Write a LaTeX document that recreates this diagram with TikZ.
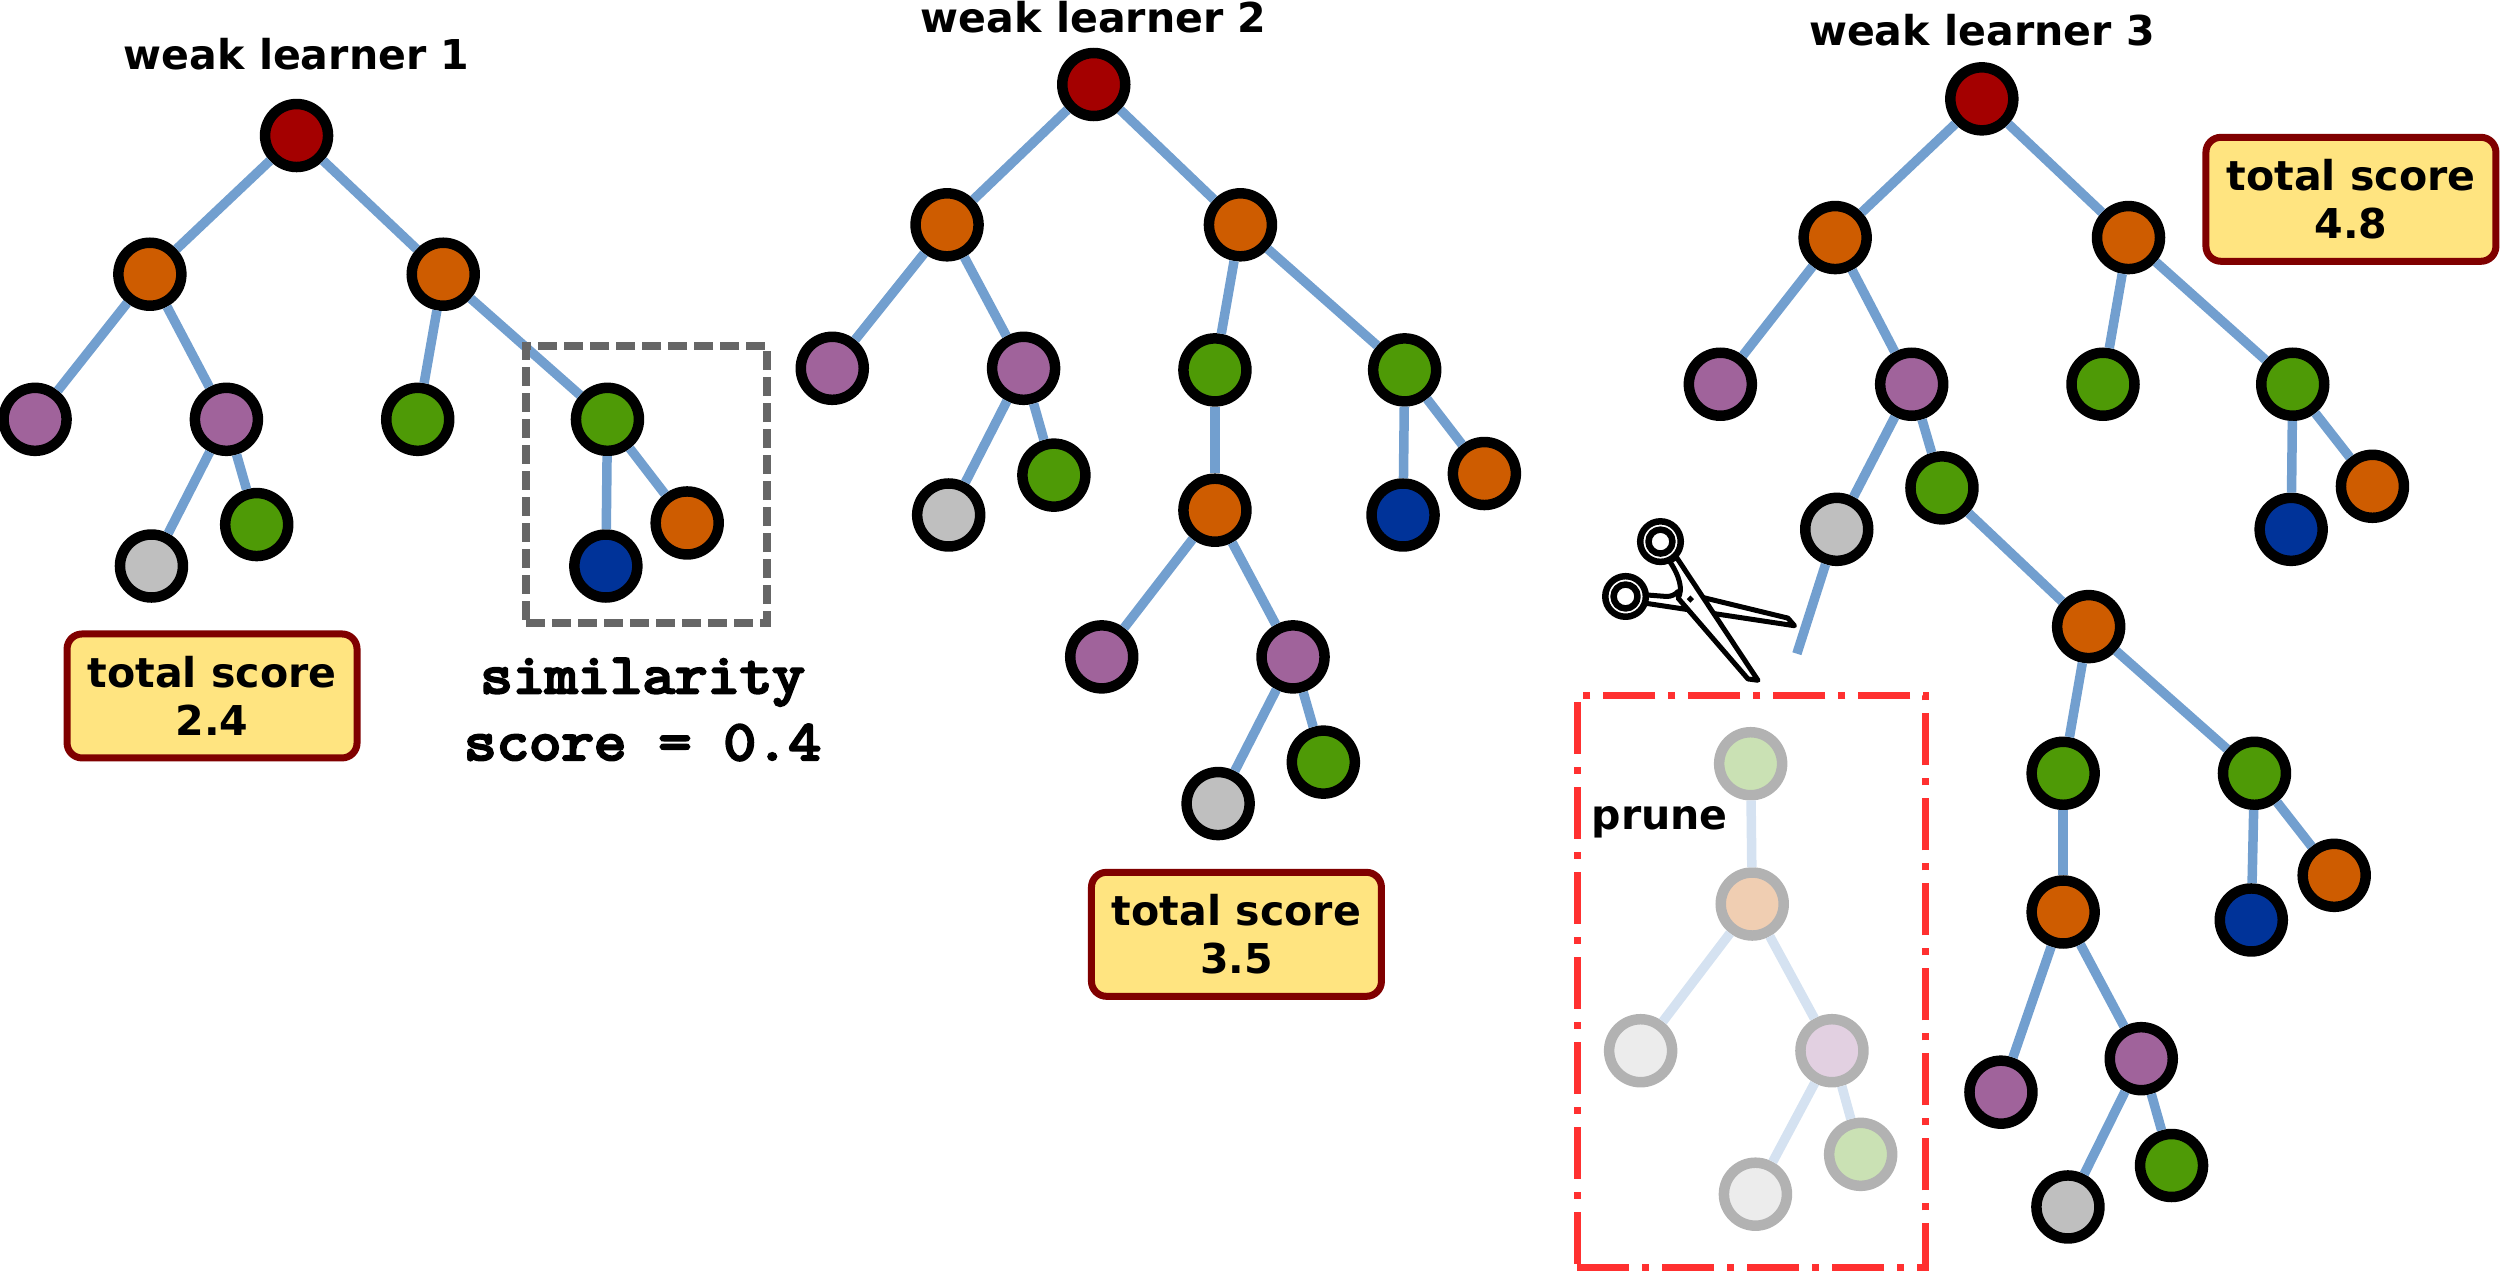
\documentclass[tikz,border=0pt]{standalone}
\usepackage{fontspec}
\setmainfont{DejaVu Sans}
\newfontfamily\simfont{Latin Modern Mono}[FakeBold=5,FakeStretch=1.12]
\usetikzlibrary{positioning}

\definecolor{redN}{HTML}{A40000}
\definecolor{orangeN}{HTML}{CE5C00}
\definecolor{purpleN}{HTML}{A0639B}
\definecolor{greenN}{HTML}{4E9A06}
\definecolor{grayN}{HTML}{BFBFBF}
\definecolor{blueN}{HTML}{003399}
\definecolor{edgeC}{HTML}{729FCF}
\definecolor{edgeP}{HTML}{D5E2F1}
\definecolor{ringP}{HTML}{B2B2B2}
\definecolor{scoreF}{HTML}{FFE480}
\definecolor{scoreD}{HTML}{800000}
\definecolor{pruneC}{HTML}{FF3030}

\tikzset{
  nd/.style={circle, draw=black, line width=0.105cm, minimum size=0.63cm, inner sep=0pt},
  ndP/.style={nd, draw=ringP},
  edge/.style={draw=edgeC, line width=0.095cm},
  edgeF/.style={draw=edgeP, line width=0.095cm},
  title/.style={font=\fontsize{11.7}{13.6}\selectfont\bfseries},
  scorebox/.style={draw=scoreD, fill=scoreF, line width=0.07cm, rounded corners=0.15cm,
    minimum width=2.9cm, minimum height=1.24cm, inner sep=0pt, align=center,
    font=\fontsize{11.7}{13.6}\selectfont\bfseries},
}

\begin{document}
\begin{tikzpicture}[x=0.015944cm, y=-0.015944cm]
\useasboundingbox (0,0) rectangle (1568,797.2);

% Learner 1
\node[title] (t1) at (186,34) {weak learner 1};
\node[nd, fill=redN] (r1) at (186,85) {};
\node[nd, fill=orangeN] (a1) at (94,172) {};
\node[nd, fill=orangeN] (b1) at (278,172) {};
\node[nd, fill=purpleN] (c1) at (22,263) {};
\node[nd, fill=purpleN] (d1) at (142,263) {};
\node[nd, fill=greenN] (e1) at (262,263) {};
\node[nd, fill=greenN] (f1) at (381,263) {};
\node[nd, fill=grayN] (g1) at (95,355) {};
\node[nd, fill=greenN] (h1) at (161,329) {};
\node[nd, fill=blueN] (i1) at (380,355) {};
\node[nd, fill=orangeN] (j1) at (431,328) {};

\draw[edge] (r1) -- (a1);
\draw[edge] (r1) -- (b1);
\draw[edge] (a1) -- (c1);
\draw[edge] (a1) -- (d1);
\draw[edge] (d1) -- (g1);
\draw[edge] (d1) -- (h1);
\draw[edge] (b1) -- (e1);
\draw[edge] (b1) -- (f1);
\draw[edge] (f1) -- (i1);
\draw[edge] (f1) -- (j1);

\node[scorebox] (s1) at (133,436.5) {total score\\2.4};

% Similarity box
\node[draw=black!60, line width=0.075cm, dash pattern=on 0.19cm off 0.07cm, minimum width=2.41cm, minimum height=2.77cm] (simbox) at (405.5,304) {};
\node[font=\fontsize{16}{19}\selectfont\simfont, align=center] (simtxt) at (403,445) {similarity\\score = 0.4};

% Learner 2
\node[title] (t2) at (686,11) {weak learner 2};
\node[nd, fill=redN] (r2) at (686,53) {};
\node[nd, fill=orangeN] (a2) at (594,141) {};
\node[nd, fill=orangeN] (b2) at (778,141) {};
\node[nd, fill=purpleN] (c2) at (522,231) {};
\node[nd, fill=purpleN] (d2) at (642,231) {};
\node[nd, fill=greenN] (e2) at (762,232) {};
\node[nd, fill=greenN] (f2) at (881,232) {};
\node[nd, fill=grayN] (g2) at (595,323) {};
\node[nd, fill=greenN] (h2) at (661,298) {};
\node[nd, fill=blueN] (i2) at (880,323) {};
\node[nd, fill=orangeN] (j2) at (931,297) {};
\node[nd, fill=orangeN] (k2) at (762,320) {};
\node[nd, fill=purpleN] (l2) at (691,412) {};
\node[nd, fill=purpleN] (m2) at (811,412) {};
\node[nd, fill=grayN] (n2) at (764,504) {};
\node[nd, fill=greenN] (o2) at (830,478) {};

\draw[edge] (r2) -- (a2);
\draw[edge] (r2) -- (b2);
\draw[edge] (a2) -- (c2);
\draw[edge] (a2) -- (d2);
\draw[edge] (d2) -- (g2);
\draw[edge] (d2) -- (h2);
\draw[edge] (b2) -- (e2);
\draw[edge] (b2) -- (f2);
\draw[edge] (f2) -- (i2);
\draw[edge] (f2) -- (j2);
\draw[edge] (e2) -- (k2);
\draw[edge] (k2) -- (l2);
\draw[edge] (k2) -- (m2);
\draw[edge] (m2) -- (n2);
\draw[edge] (m2) -- (o2);

\node[scorebox] (s2) at (775.5,586) {total score\\3.5};

% Learner 3
\node[title] (t3) at (1243,19) {weak learner 3};
\node[nd, fill=redN] (r3) at (1243,62) {};
\node[nd, fill=orangeN] (a3) at (1151,149) {};
\node[nd, fill=orangeN] (b3) at (1335,149) {};
\node[nd, fill=purpleN] (c3) at (1079,241) {};
\node[nd, fill=purpleN] (d3) at (1199,241) {};
\node[nd, fill=greenN] (e3) at (1319,241) {};
\node[nd, fill=greenN] (f3) at (1438,241) {};
\node[nd, fill=grayN] (g3) at (1152,332) {};
\node[nd, fill=greenN] (h3) at (1218,306) {};
\node[nd, fill=blueN] (i3) at (1437,332) {};
\node[nd, fill=orangeN] (j3) at (1488,305) {};
\node[nd, fill=orangeN] (p3) at (1310,393) {};
\node[nd, fill=greenN] (q3) at (1294,485) {};
\node[nd, fill=greenN] (u3) at (1414,485) {};
\node[nd, fill=orangeN] (v3) at (1294,572) {};
\node[nd, fill=blueN] (w3) at (1412,577) {};
\node[nd, fill=orangeN] (x3) at (1464,549) {};
\node[nd, fill=purpleN] (y3) at (1255,685) {};
\node[nd, fill=purpleN] (z3) at (1343,664) {};
\node[nd, fill=grayN] (m3) at (1297,757) {};
\node[nd, fill=greenN] (n3) at (1362,731) {};
\coordinate (cut) at (1127,410);

\draw[edge] (r3) -- (a3);
\draw[edge] (r3) -- (b3);
\draw[edge] (a3) -- (c3);
\draw[edge] (a3) -- (d3);
\draw[edge] (d3) -- (g3);
\draw[edge] (d3) -- (h3);
\draw[edge] (b3) -- (e3);
\draw[edge] (b3) -- (f3);
\draw[edge] (f3) -- (i3);
\draw[edge] (f3) -- (j3);
\draw[edge] (g3) -- (cut);
\draw[edge] (h3) -- (p3);
\draw[edge] (p3) -- (q3);
\draw[edge] (p3) -- (u3);
\draw[edge] (q3) -- (v3);
\draw[edge] (u3) -- (w3);
\draw[edge] (u3) -- (x3);
\draw[edge] (v3) -- (y3);
\draw[edge] (v3) -- (z3);
\draw[edge] (z3) -- (m3);
\draw[edge] (z3) -- (n3);

\node[scorebox] (s3) at (1474.5,125) {total score\\4.8};

% Pruned part
\node[draw=pruneC, line width=0.07cm, dash pattern=on 0.52cm off 0.13cm on 0.07cm off 0.13cm, minimum width=3.48cm, minimum height=5.72cm] (prunebox) at (1098.4,615.5) {};
\node[title] (prunetxt) at (1041,516) {prune};
\node[ndP, fill=greenN!30] (pa) at (1098,479) {};
\node[ndP, fill=orangeN!30] (pb) at (1099,567) {};
\node[ndP, fill=grayN!30] (pc) at (1029,659) {};
\node[ndP, fill=purpleN!30] (pd) at (1149,659) {};
\node[ndP, fill=grayN!30] (pe) at (1101,749) {};
\node[ndP, fill=greenN!30] (pf) at (1167,724) {};

\draw[edgeF] (pa) -- (pb);
\draw[edgeF] (pb) -- (pc);
\draw[edgeF] (pb) -- (pd);
\draw[edgeF] (pd) -- (pe);
\draw[edgeF] (pd) -- (pf);

% Scissors
\begin{scope}[shift={(972.2,301.1)}, x=0.003333cm, y=-0.003333cm, line width=0.05cm, line join=round]
\draw[fill=white] (285,345) -- (350,350) .. controls (365,350) and (375,345) .. (385,335) -- (715,415) -- (735,438) -- (285,370) -- cycle;
\draw[fill=white] (380,232) -- (625,602) -- (595,598) -- (385,355) .. controls (400,330) and (390,290) .. (360,245) -- cycle;
\fill (422,347) -- (433,358) -- (422,369) -- (411,358) -- cycle;
\draw[fill=white, line width=0.065cm] (332,185) circle (61);
\draw[line width=0.065cm] (332,185) circle (36);
\draw[fill=white, line width=0.065cm] (227,350) circle (61);
\draw[line width=0.065cm] (227,350) circle (36);
\end{scope}
\end{tikzpicture}
\end{document}
